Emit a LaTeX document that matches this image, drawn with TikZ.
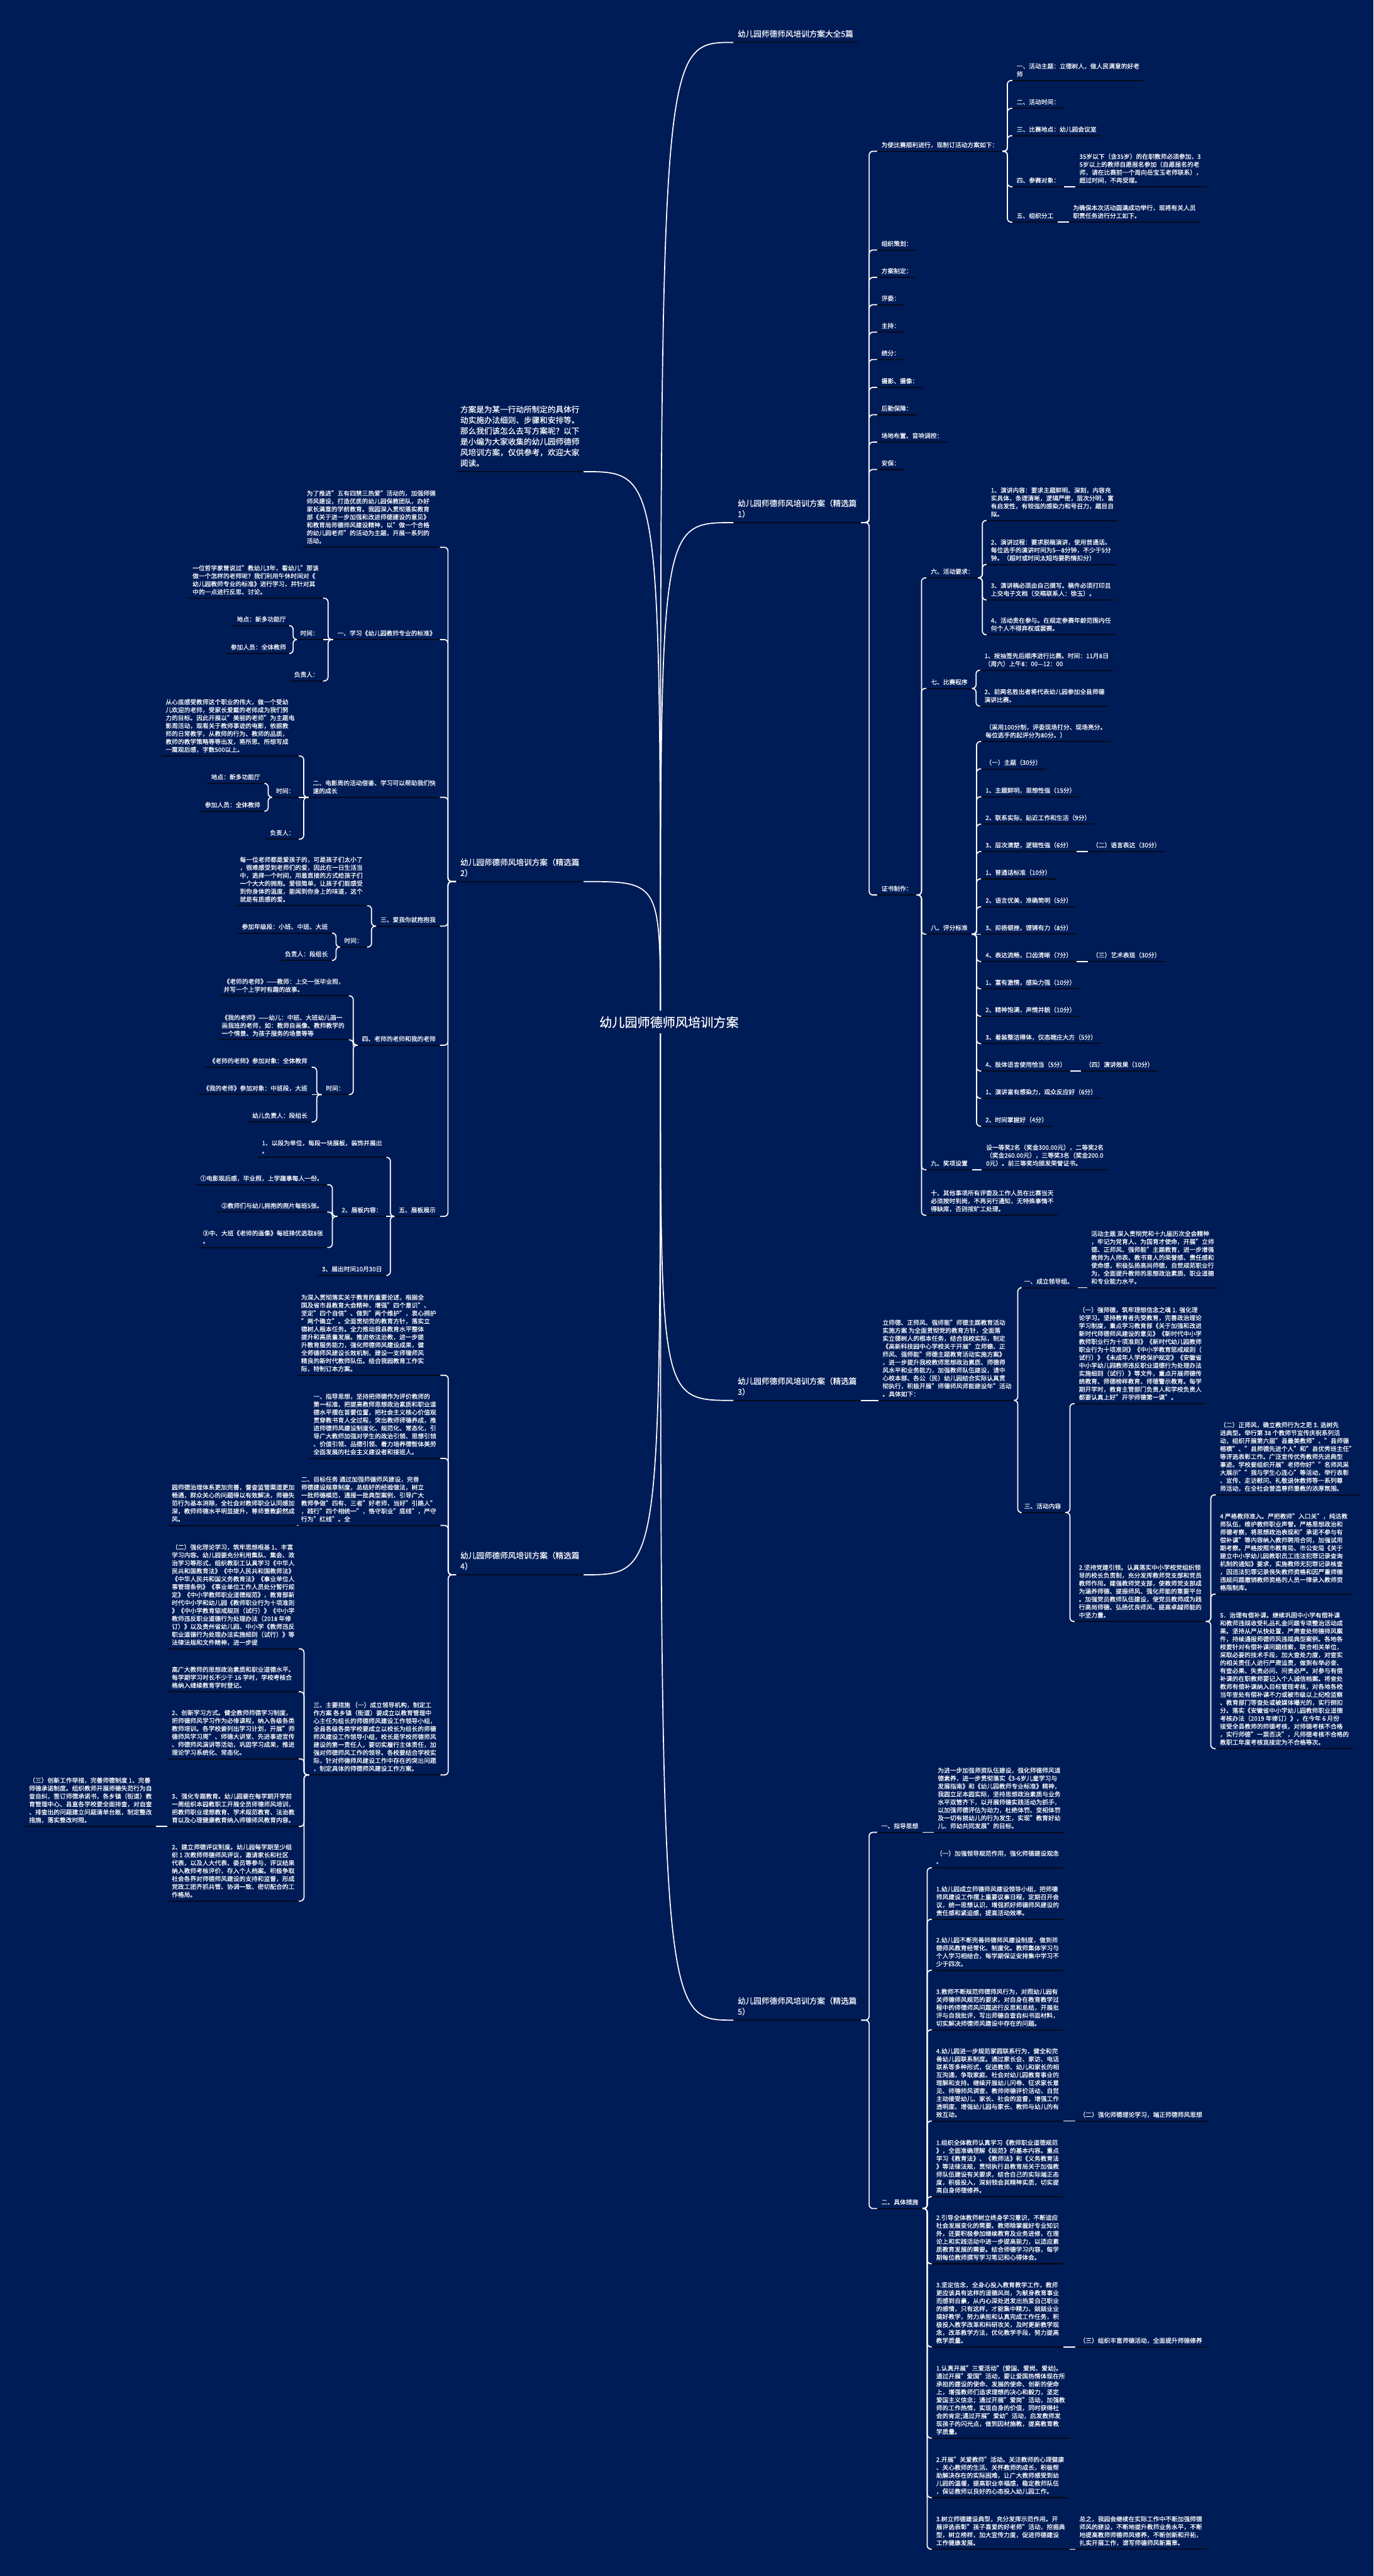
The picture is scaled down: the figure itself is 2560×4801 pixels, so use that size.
\documentclass[tikz,border=0pt]{standalone}
\usepackage{fontspec}
\setmainfont{Noto Sans CJK SC}[FakeBold=0.3]
\usetikzlibrary{calc}
\definecolor{bgc}{HTML}{001C57}
\definecolor{ulc}{HTML}{050B1E}
\newcommand\TL[1]{\vbox{\lineskiplimit=-\maxdimen\lineskip=0pt\let\\\cr\halign{##\hfil\cr#1\crcr}}}
\newcommand\leaffont{\fontsize{5.72pt}{7.4pt}\selectfont}
\newcommand\bigfont{\fontsize{7.4pt}{10pt}\selectfont}
\newcommand\rootfont{\fontsize{11.8pt}{14pt}\selectfont}
\tikzset{
 lf/.style={font=\leaffont, text=white, inner xsep=4pt, inner ysep=3.8pt, text depth=0pt, outer sep=0pt},
 big/.style={font=\bigfont, text=white, inner xsep=4pt, inner ysep=5.2pt, text depth=0pt, outer sep=0pt},
 ul/.style={draw=ulc, line width=1.2pt},
 cn/.style={draw=white, line width=1pt, rounded corners=3.5pt},
 rc/.style={draw=white, line width=1pt},
 rootnode/.style={font=\rootfont, text=white, fill=bgc, inner sep=5pt}
}
\newcommand\NR[5][lf]{\node[#1,anchor=south west] (#2) at (#3,#4) {\TL{#5}}; \draw[ul] (#2.south west) -- (#2.south east);}
\newcommand\NL[5][lf]{\node[#1,anchor=south east] (#2) at (#3,#4) {\TL{#5}}; \draw[ul] (#2.south west) -- (#2.south east);}
\newcommand\cR[2]{\draw[cn] (#1.south east) -| ($(#1.south east)!.5!(#2.south west)$) |- (#2.south west);}
\newcommand\cL[2]{\draw[cn] (#1.south west) -| ($(#1.south west)!.5!(#2.south east)$) |- (#2.south east);}
\newcommand\cS[2]{\draw[rc] (#1.south east) -- (#2.south west);}
\newcommand\cSL[2]{\draw[rc] (#1.south west) -- (#2.south east);}
\begin{document}
\begin{tikzpicture}[x=0.5pt,y=-0.5pt]
\fill[bgc] (0,0) rectangle (2560,4801);
\useasboundingbox (0,0) rectangle (2560,4801);
% ---------- branch labels
\NR[big]{top}{1367}{79}{幼儿园师德师风培训方案大全5篇}
\NR[big]{g1}{1367}{974}{幼儿园师德师风培训方案（精选篇\\1）}
\NR[big]{g3}{1367}{2610}{幼儿园师德师风培训方案（精选篇\\3）}
\NR[big]{g5}{1367}{3765}{幼儿园师德师风培训方案（精选篇\\5）}
\NL[big]{intro}{1088}{879}{方案是为某一行动所制定的具体行\\动实施办法细则、步骤和安排等。\\那么我们该怎么去写方案呢？以下\\是小编为大家收集的幼儿园师德师\\风培训方案，仅供参考，欢迎大家\\阅读。}
\NL[big]{g2}{1088}{1643}{幼儿园师德师风培训方案（精选篇\\2）}
\NL[big]{g4}{1088}{2935}{幼儿园师德师风培训方案（精选篇\\4）}
% ---------- 篇1
\NR{p1}{1635}{282}{为使比赛顺利进行，现制订活动方案如下：}
\NR{p1a}{1887}{150}{一、活动主题：立德树人，做人民满意的好老\\师}
\NR{p1b}{1887}{202}{二、活动时间：}
\NR{p1c}{1887}{253}{三、比赛地点：幼儿园会议室}
\NR{p1d}{1887}{348}{四、参赛对象：}
\NR{p1d1}{2004}{348}{35岁以下（含35岁）的在职教师必须参加，3\\5岁以上的教师自愿报名参加（自愿报名的老\\师，请在比赛前一个周向岳宝玉老师联系），\\超过时间，不再受理。}
\NR{p1e}{1887}{414}{五、组织分工}
\NR{p1e1}{1992}{414}{为确保本次活动圆满成功举行，现将有关人员\\职责任务进行分工如下。}
\NR{p2}{1635}{466}{组织策划：}
\NR{p3}{1635}{517}{方案制定：}
\NR{p4}{1635}{568}{评委：}
\NR{p5}{1635}{619}{主持：}
\NR{p6}{1635}{670}{统分：}
\NR{p7}{1635}{722}{摄影、摄像：}
\NR{p8}{1635}{773}{后勤保障：}
\NR{p9}{1635}{824}{场地布置、音响调控：}
\NR{p10}{1635}{875}{安保：}
\NR{p11}{1635}{1668}{证书制作：}
\NR{q6}{1727}{1077}{六、活动要求：}
\NR{q6a}{1839}{970}{1、演讲内容：要求主题鲜明、深刻，内容充\\实具体，条理清晰，逻辑严密，层次分明，富\\有启发性，有较强的感染力和号召力，题目自\\拟。}
\NR{q6b}{1839}{1052}{2、演讲过程：要求脱稿演讲，使用普通话。\\每位选手的演讲时间为5—8分钟，不少于5分\\钟。（超时或时间太短均要酌情扣分）}
\NR{q6c}{1839}{1118}{3、演讲稿必须由自己撰写。稿件必须打印且\\上交电子文档（交稿联系人：徐玉）。}
\NR{q6d}{1839}{1183}{4、活动贵在参与。在规定参赛年龄范围内任\\何个人不得弃权或罢赛。}
\NR{q7}{1727}{1283}{七、比赛程序}
\NR{q7a}{1827}{1249}{1、按抽签先后顺序进行比赛。时间：11月8日\\（周六）上午8：00—12：00}
\NR{q7b}{1827}{1316}{2、前两名胜出者将代表幼儿园参加全县师德\\演讲比赛。}
\NR{q8}{1727}{1741}{八、评分标准}
\NR{q8a}{1829}{1382}{（采用100分制，评委现场打分、现场亮分。\\每位选手的起评分为80分。）}
\NR{q8b}{1829}{1433}{（一）主题（30分）}
\NR{q8c}{1829}{1485}{1、主题鲜明，思想性强（15分）}
\NR{q8d}{1829}{1536}{2、联系实际，贴近工作和生活（9分）}
\NR{q8e}{1829}{1587}{3、层次清楚，逻辑性强（6分）}
\NR{q8e1}{2028}{1587}{（二）语言表达（30分）}
\NR{q8f}{1829}{1638}{1、普通话标准（10分）}
\NR{q8g}{1829}{1690}{2、语言优美，准确简明（5分）}
\NR{q8h}{1829}{1741}{3、抑扬顿挫，铿锵有力（8分）}
\NR{q8i}{1829}{1792}{4、表达流畅，口齿清晰（7分）}
\NR{q8i1}{2028}{1792}{（三）艺术表现（30分）}
\NR{q8j}{1829}{1843}{1、富有激情，感染力强（10分）}
\NR{q8k}{1829}{1894}{2、精神饱满，声情并貌（10分）}
\NR{q8l}{1829}{1945}{3、着装整洁得体，仪态端庄大方（5分）}
\NR{q8m}{1829}{1996}{4、肢体语言使用恰当（5分）}
\NR{q8m1}{2015}{1996}{（四）演讲效果（10分）}
\NR{q8n}{1829}{2047}{1、演讲富有感染力，观众反应好（6分）}
\NR{q8o}{1829}{2099}{2、时间掌握好（4分）}
\NR{q9}{1727}{2180}{九、奖项设置}
\NR{q9a}{1830}{2180}{设一等奖2名（奖金300.00元），二等奖2名\\（奖金260.00元），三等奖3名（奖金200.0\\0元）。前三等奖均颁发荣誉证书。}
\NR{q10}{1727}{2265}{十、其他事项所有评委及工作人员在比赛当天\\必须按时到岗，不再另行通知，无特殊事情不\\得缺席，否则按旷工处理。}
% ---------- 篇3
\NR{c0}{1637}{2610}{立师德、正师风、强师能"师德主题教育活动\\实施方案 为全面贯彻党的教育方针，全面落\\实立德树人的根本任务，结合我校实际，制定\\《高新科技园中心学校关于开展"立师德、正\\师风、强师能"师德主题教育活动实施方案》\\，进一步提升我校教师思想政治素质、师德师\\风水平和业务能力，加强教师队伍建设，请中\\心校本部、各公（民）幼儿园结合实际认真贯\\彻执行，积极开展"师德师风师能建设年"活动\\。具体如下：}
\NR{c1}{1901}{2400}{一、成立领导组。}
\NR{c1a}{2026}{2400}{活动主题 深入贯彻党和十九届历次全会精神\\，牢记为党育人、为国育才使命，开展"立师\\德、正师风、强师能"主题教育，进一步增强\\教师为人师表、教书育人的荣誉感、责任感和\\使命感，积极弘扬高尚师德，自觉规范职业行\\为，全面提升教师的思想政治素质、职业道德\\和专业能力水平。}
\NR{c3}{1901}{2819}{三、活动内容}
\NR{c3a}{2003}{2616}{（一）强师德，筑牢理想信念之魂 1. 强化理\\论学习。坚持教育者先受教育，完善政治理论\\学习制度，重点学习教育部《关于加强和改进\\新时代师德师风建设的意见》《新时代中小学\\教师职业行为十项准则》《新时代幼儿园教师\\职业行为十项准则》《中小学教育惩戒规则（\\试行）》《未成年人学校保护规定》《安徽省\\中小学幼儿园教师违反职业道德行为处理办法\\实施细则（试行）》等文件，重点开展师德传\\统教育、师德榜样教育、师德警示教育。每学\\期开学时，教育主管部门负责人和学校负责人\\都要认真上好"开学师德第一课"。}
\NR{c3b}{2003}{3022}{2.坚持党建引领。认真落实中小学校党组织领\\导的校长负责制，充分发挥教师党支部和党员\\教师作用。建强教师党支部，使教师党支部成\\为涵养师德、提振师风、强化师能的重要平台\\。加强党员教师队伍建设，使党员教师成为践\\行高尚师德、弘扬优良师风、提高卓越师能的\\中坚力量。}
\NR{c3b1}{2266}{2786}{（二）正师风，确立教师行为之范 3. 选树先\\进典型。举行第 38 个教师节宣传庆祝系列活\\动，组织开展第六届"县最美教师"、"县师德\\楷模"、"县师德先进个人"和"县优秀班主任"\\等评选表彰工作。广泛宣传优秀教师先进典型\\事迹。学校要组织开展"老师你好""名师风采\\大展示""我与学生心连心"等活动，举行表彰\\、宣传、走访慰问、礼敬退休教师等一系列尊\\师活动，在全社会营造尊师重教的浓厚氛围。}
\NR{c3b2}{2266}{2971}{4 严格教师准入。严把教师"入口关"，纯洁教\\师队伍，维护教师职业声誉。严格思想政治和\\师德考察，将思想政治表现和"承诺不参与有\\偿补课"等内容纳入教师聘用合同，加强试用\\期考察。严格按照市教育局、市公安局《关于\\建立中小学幼儿园教职员工违法犯罪记录查询\\机制的通知》要求，实施教师无犯罪记录核查\\，因违法犯罪记录丧失教师资格和因严重师德\\违规问题撤销教师资格的人员一律录入教师资\\格限制库。}
\NR{c3b3}{2266}{3259}{5．治理有偿补课。继续巩固中小学有偿补课\\和教师违规收受礼品礼金问题专项整治活动成\\果。坚持从严从快处置，严肃查处师德师风案\\件，持续通报师德师风违规典型案例。各地各\\校要针对有偿补课问题线索，联合相关单位，\\采取必要的技术手段，加大查处力度，对查实\\的相关责任人进行严肃追责，做到有举必查、\\有查必果、失责必问、问责必严。对参与有偿\\补课的在职教师要记入个人诚信档案。将查处\\教师有偿补课纳入目标管理考核，对各地各校\\当年查处有偿补课不力或被市级以上纪检监察\\、教育部门等查处或被媒体曝光的，实行倒扣\\分。落实《安徽省中小学幼儿园教师职业道德\\考核办法（2019 年修订）》，在今年 6 月份\\接受全县教师的师德考核，对师德考核不合格\\，实行师德"一票否决"，凡师德考核不合格的\\教职工年度考核直接定为不合格等次。}
% ---------- 篇5
\NR{e1}{1635}{3415}{一、指导思想}
\NR{e1a}{1740}{3415}{为进一步加强师资队伍建设，强化师德师风道\\德素养，进一步贯彻落实《3-6岁儿童学习与\\发展指南》和《幼儿园教师专业标准》精神，\\我园立足本园实际，坚持思想政治素质与业务\\水平双管齐下，以开展师德实践活动为抓手，\\以加强师德评估为动力，杜绝体罚、变相体罚\\及一切有损幼儿的行为发生，实现"教育好幼\\儿、师幼共同发展"的目标。}
\NR{e2}{1635}{4116}{二、具体措施}
\NR{e2a}{1737}{3481}{（一）加强领导规范作用，强化师德建设观念\\。}
\NR{e2b}{1737}{3577}{1.幼儿园成立师德师风建设领导小组，把师德\\师风建设工作摆上重要议事日程，定期召开会\\议，统一思想认识，增强抓好师德师风建设的\\责任感和紧迫感，提高活动效率。}
\NR{e2c}{1737}{3672}{2.幼儿园不断完善师德师风建设制度，做到师\\德师风教育经常化、制度化。教师集体学习与\\个人学习相结合，每学期保证安排集中学习不\\少于四次。}
\NR{e2d}{1737}{3783}{3.教师不断规范师德师风行为，对照幼儿园有\\关师德师风规范的要求，对自身在教育教学过\\程中的师德师风问题进行反思和总结，开展批\\评与自我批评，写出师德自查自纠书面材料，\\切实解决师德师风建设中存在的问题。}
\NR{e2e}{1737}{3953}{4.幼儿园进一步规范家园联系行为，健全和完\\善幼儿园联系制度。通过家长会、家访、电话\\联系等多种形式，促进教师、幼儿和家长的相\\互沟通，争取家庭、社会对幼儿园教育事业的\\理解和支持。继续开展幼儿问卷、征求家长意\\见、师德师风调查、教师师德评价活动，自觉\\主动接受幼儿、家长、社会的监督，增强工作\\透明度、增强幼儿园与家长、教师与幼儿的有\\效互动。}
\NR{e2e1}{2004}{3953}{（二）强化师德理论学习，端正师德师风思想}
\NR{e2f}{1737}{4094}{1.组织全体教师认真学习《教师职业道德规范\\》，全面准确理解《规范》的基本内容。重点\\学习《教育法》、《教师法》和《义务教育法\\》等法律法规，贯彻执行县教育局关于加强教\\师队伍建设有关要求，结合自己的实际端正态\\度，积极投入，深刻领会其精神实质，切实提\\高自身师德修养。}
\NR{e2g}{1737}{4219}{2.引导全体教师树立终身学习意识，不断适应\\社会发展变化的需要。教师除掌握好专业知识\\外，还要积极参加继续教育及业务进修，在理\\论上和实践活动中进一步提高能力，以适应素\\质教育发展的需要。结合师德学习内容，每学\\期每位教师撰写学习笔记和心得体会。}
\NR{e2h}{1737}{4374}{3.坚定信念，全身心投入教育教学工作，教师\\更应该具有这样的道德风尚，为献身教育事业\\而感到自豪，从内心深处迸发出热爱自己职业\\的感情，只有这样，才能集中精力、兢兢业业\\搞好教学，努力承担和认真完成工作任务，积\\极投入教学改革和科研攻关，及时更新教学观\\念，改革教学方法，优化教学手段，努力提高\\教学质量。}
\NR{e2h1}{2004}{4374}{（三）组织丰富师德活动，全面提升师德修养}
\NR{e2i}{1737}{4544}{1.认真开展"三爱活动"(爱国、爱岗、爱幼)。\\通过开展"爱国"活动，要让爱国热情体现在所\\承担的建设的使命、发展的使命、创新的使命\\上，增强教师们追求理想的决心和毅力，坚定\\爱国主义信念；通过开展"爱岗"活动，加强教\\师的工作热情，实现自身的价值，同时获得社\\会的肯定;通过开展"爱幼"活动，启发教师发\\现孩子的闪光点，做到因材施教，提高教育教\\学质量。}
\NR{e2j}{1737}{4655}{2.开展"关爱教师"活动。关注教师的心理健康\\、关心教师的生活、关怀教师的成长，积极帮\\助解决存在的实际困难，让广大教师感受到幼\\儿园的温暖，提高职业幸福感，稳定教师队伍\\，保证教师以良好的心态投入幼儿园工作。}
\NR{e2k}{1737}{4751}{3.树立师德建设典型，充分发挥示范作用。开\\展评选表彰"孩子喜爱的好老师"活动，挖掘典\\型，树立榜样，加大宣传力度，促进师德建设\\工作健康发展。}
\NR{e2k1}{2004}{4751}{总之，我园会继续在实际工作中不断加强师德\\师风的建设，不断地提升教师业务水平，不断\\地提高教师师德师风修养，不断创新和开拓，\\扎实开展工作，谱写师德师风新篇章。}
% ---------- 篇2 (left)
\NL{a0}{820}{1020}{为了推进"五有四禁三热爱"活动的，加强师德\\师风建设，打造优质的幼儿园保教团队，办好\\家长满意的学前教育。我园深入贯彻落实教育\\部《关于进一步加强和改进师德建设的意见》\\和教育局师德师风建设精神，以"做一个合格\\的幼儿园老师"的活动为主题，开展一系列的\\活动。}
\NL{a1}{820}{1192}{一、学习《幼儿园教师专业的标准》}
\NL{a1a}{602}{1115}{一位哲学家曾说过"教幼儿3年，看幼儿"那该\\做一个怎样的老师呢？我们利用午休时间对《\\幼儿园教师专业的标准》进行学习，并针对其\\中的一点进行反思、讨论。}
\NL{a1b}{602}{1192}{时间：}
\NL{a1b1}{541}{1166}{地点：新多功能厅}
\NL{a1b2}{541}{1218}{参加人员：全体教师}
\NL{a1c}{602}{1269}{负责人：}
\NL{a2}{820}{1486}{二、电影周的活动借鉴、学习可以帮助我们快\\速的成长}
\NL{a2a}{557}{1409}{从心底感受教师这个职业的伟大，做一个受幼\\儿欢迎的老师，受家长爱戴的老师成为我们努\\力的目标。因此开展以"美丽的老师"为主题电\\影周活动，观看关于教师事迹的电影，依据教\\师的日常教学，从教师的行为、教师的品质，\\教师的教学策略等等出发，将所思、所想写成\\一篇观后感，字数500以上。}
\NL{a2b}{557}{1486}{时间：}
\NL{a2b1}{493}{1460}{地点：新多功能厅}
\NL{a2b2}{493}{1512}{参加人员：全体教师}
\NL{a2c}{557}{1564}{负责人：}
\NL{a3}{820}{1726}{三、爱我你就抱抱我}
\NL{a3a}{684}{1688}{每一位老师都是爱孩子的，可是孩子们太小了\\，很难感受到老师们的爱，因此在一日生活当\\中，选择一个时间，用最直接的方式给孩子们\\一个大大的拥抱。爱很简单，让孩子们能感受\\到你身体的温度，能闻到你身上的味道，这个\\就是有质感的爱。}
\NL{a3b}{684}{1765}{时间：}
\NL{a3b1}{619}{1739}{参加年级段：小班、中班、大班}
\NL{a3b2}{619}{1790}{负责人：段组长}
\NL{a4}{820}{1948}{四、老师的老师和我的老师}
\NL{a4a}{650}{1856}{《老师的老师》——教师：上交一张毕业照，\\并写一个上学时有趣的故事。}
\NL{a4b}{650}{1938}{《我的老师》——幼儿：中班、大班幼儿画一\\画我班的老师，如：教师自画像、教师教学的\\一个情景、为孩子服务的场景等等}
\NL{a4c}{650}{2040}{时间：}
\NL{a4c1}{581}{1989}{《老师的老师》参加对象：全体教师}
\NL{a4c2}{581}{2040}{《我的老师》参加对象：中班段，大班}
\NL{a4c3}{581}{2091}{幼儿负责人：段组长}
\NL{a5}{820}{2267}{五、展板展示}
\NL{a5a}{720}{2157}{1、以段为单位，每段一块展板，装饰并展出\\。}
\NL{a5b}{720}{2267}{2、展板内容：}
\NL{a5b1}{610}{2208}{①电影观后感，毕业照，上学趣事每人一份。}
\NL{a5b2}{610}{2259}{②教师们与幼儿拥抱的照片每班5张。}
\NL{a5b3}{610}{2325}{③中、大班《老师的画像》每班择优选取8张\\。}
\NL{a5c}{720}{2377}{3、展出时间10月30日}
% ---------- 篇4 (left)
\NL{d0}{821}{2563}{为深入贯彻落实关于教育的重要论述，根据全\\国及省市县教育大会精神，增强"四个意识"、\\坚定"四个自信"、做到"两个维护"，衷心拥护\\"两个确立"。全面贯彻党的教育方针，落实立\\德树人根本任务。全力推动我县教育水平整体\\提升和高质量发展。推进依法治教，进一步提\\升教育服务能力，强化师德师风建设成果，健\\全师德师风建设长效机制，建设一支师德师风\\精良的新时代教师队伍。结合我园教育工作实\\际，特制订本方案。}
\NL{d1}{821}{2718}{一、指导思想，坚持把师德作为评价教师的\\第一标准，把提高教师思想政治素质和职业道\\德水平摆在首要位置，把社会主义核心价值观\\贯穿教书育人全过程，突出教师师德养成，推\\进师德师风建设制度化、规范化、常态化，引\\导广大教师加强对学生的政治引领、思想引领\\、价值引领、品德引领、着力培养德智体美劳\\全面发展的社会主义建设者和接班人。}
\NL{d2}{821}{2843}{二、目标任务 通过加强师德师风建设，完善\\师德建设规章制度，总结好的经验做法，树立\\一批师德模范，通报一批典型案例，引导广大\\教师争做"四有、三者"好老师，当好"引路人"\\，践行"四个相统一"，恪守职业"底线"，严守\\行为"红线"。全}
\NL{d2a}{557}{2843}{园师德治理体系更加完善，督查监管渠道更加\\畅通，群众关心的问题得以有效解决，师德失\\范行为基本消除，全社会对教师职业认同感加\\深，教师师德水平明显提升，尊师重教蔚然成\\风。}
\NL{d3}{821}{3308}{三、主要措施 （一）成立领导机构，制定工\\作方案 各乡镇（街道）要成立以教育管理中\\心主任为组长的师德师风建设工作领导小组，\\全县各级各类学校要成立以校长为组长的师德\\师风建设工作领导小组，校长是学校师德师风\\建设的第一责任人，要切实履行主体责任，加\\强对师德师风工作的领导。各校要结合学校实\\际，针对师德师风建设工作中存在的突出问题\\，制定具体的师德师风建设工作方案。}
\NL{d3a}{557}{3073}{（二）强化理论学习，筑牢思想根基 1、丰富\\学习内容。幼儿园要充分利用集队、集会、政\\治学习等形式，组织教职工认真学习《中华人\\民共和国教育法》《中华人民共和国教师法》\\《中华人民共和国义务教育法》《事业单位人\\事管理条例》《事业单位工作人员处分暂行规\\定》《中小学教师职业道德规范》，教育部新\\时代中小学和幼儿园《教师职业行为十项准则\\》《中小学教育惩戒规则（试行）》《中小学\\教师违反职业道德行为处理办法（2018 年修\\订）》以及贵州省幼儿园、中小学《教师违反\\职业道德行为处理办法实施细则（试行）》等\\法律法规和文件精神，进一步提}
\NL{d3b}{557}{3153}{高广大教师的思想政治素质和职业道德水平。\\每学期学习时长不少于 16 学时，学校考核合\\格纳入继续教育学时登记。}
\NL{d3c}{557}{3278}{2、创新学习方式。健全教师师德学习制度，\\把师德师风学习作为必修课程，纳入各级各类\\教师培训。各学校要列出学习计划，开展"师\\德师风学习周"、师德大讲堂、先进事迹宣传\\、师德师风演讲等活动，巩固学习成果，推进\\理论学习系统化、常态化。}
\NL{d3d}{557}{3404}{3、强化专题教育。幼儿园要在每学期开学前\\一周组织本园教职工开展全员师德师风培训，\\把教师职业理想教育、学术规范教育、法治教\\育以及心理健康教育纳入师德师风教育内容。}
\NL{d3d1}{291}{3404}{（三）创新工作举措，完善师德制度 1、完善\\师德承诺制度。组织教师开展师德失范行为自\\查自纠，签订师德承诺书，各乡镇（街道）教\\育管理中心、县直各学校要全面排查，对自查\\、排查出的问题建立问题清单台账，制定整改\\措施，落实整改时限。}
\NL{d3e}{557}{3543}{2、建立师德评议制度。幼儿园每学期至少组\\织 1 次教师师德师风评议，邀请家长和社区\\代表，以及人大代表、委员等参与，评议结果\\纳入教师考核评价，存入个人档案。积极争取\\社会各界对师德师风建设的支持和监督，形成\\党政工团齐抓共管、协调一致、密切配合的工\\作格局。}
% ---------- connectors
\foreach \c in {p1,p2,p3,p4,p5,p6,p7,p8,p9,p10,p11} {\cR{g1}{\c}}
\foreach \c in {p1a,p1b,p1c,p1d,p1e} {\cR{p1}{\c}}
\cS{p1d}{p1d1} \cS{p1e}{p1e1}
\foreach \c in {q6,q7,q8,q9,q10} {\cR{p11}{\c}}
\foreach \c in {q6a,q6b,q6c,q6d} {\cR{q6}{\c}}
\foreach \c in {q7a,q7b} {\cR{q7}{\c}}
\foreach \c in {q8a,q8b,q8c,q8d,q8e,q8f,q8g,q8i,q8j,q8k,q8l,q8m,q8n,q8o} {\cR{q8}{\c}}
\cS{q8}{q8h} \cS{q8e}{q8e1} \cS{q8i}{q8i1} \cS{q8m}{q8m1} \cS{q9}{q9a}
\cS{g3}{c0}
\cR{c0}{c1} \cR{c0}{c3} \cS{c1}{c1a}
\cR{c3}{c3a} \cR{c3}{c3b}
\foreach \c in {c3b1,c3b2,c3b3} {\cR{c3b}{\c}}
\cR{g5}{e1} \cR{g5}{e2} \cS{e1}{e1a}
\foreach \c in {e2a,e2b,e2c,e2d,e2e,e2f,e2g,e2h,e2i,e2j,e2k} {\cR{e2}{\c}}
\cS{e2e}{e2e1} \cS{e2h}{e2h1} \cS{e2k}{e2k1}
\foreach \c in {a0,a1,a2,a3,a4,a5} {\cL{g2}{\c}}
\cL{a1}{a1a} \cSL{a1}{a1b} \cL{a1}{a1c} \cL{a1b}{a1b1} \cL{a1b}{a1b2}
\cL{a2}{a2a} \cSL{a2}{a2b} \cL{a2}{a2c} \cL{a2b}{a2b1} \cL{a2b}{a2b2}
\cL{a3}{a3a} \cL{a3}{a3b} \cL{a3b}{a3b1} \cL{a3b}{a3b2}
\cL{a4}{a4a} \cL{a4}{a4b} \cL{a4}{a4c} \cL{a4c}{a4c1} \cSL{a4c}{a4c2} \cL{a4c}{a4c3}
\cL{a5}{a5a} \cSL{a5}{a5b} \cL{a5}{a5c} \cL{a5b}{a5b1} \cL{a5b}{a5b2} \cL{a5b}{a5b3}
\foreach \c in {d0,d1,d2,d3} {\cL{g4}{\c}}
\cSL{d2}{d2a}
\foreach \c in {d3a,d3b,d3c,d3d,d3e} {\cL{d3}{\c}}
\cSL{d3d}{d3d1}
% ---------- root
\coordinate (R) at (1231,1905);
\foreach \b in {top,g1,g3,g5} {\draw[rc] (R) .. controls (R |- \b.south west) .. (\b.south west);}
\foreach \b in {intro,g2,g4} {\draw[rc] (R) .. controls (R |- \b.south east) .. (\b.south east);}
\node[rootnode] (root) at (1247,1905) {幼儿园师德师风培训方案};
\end{tikzpicture}
\end{document}
